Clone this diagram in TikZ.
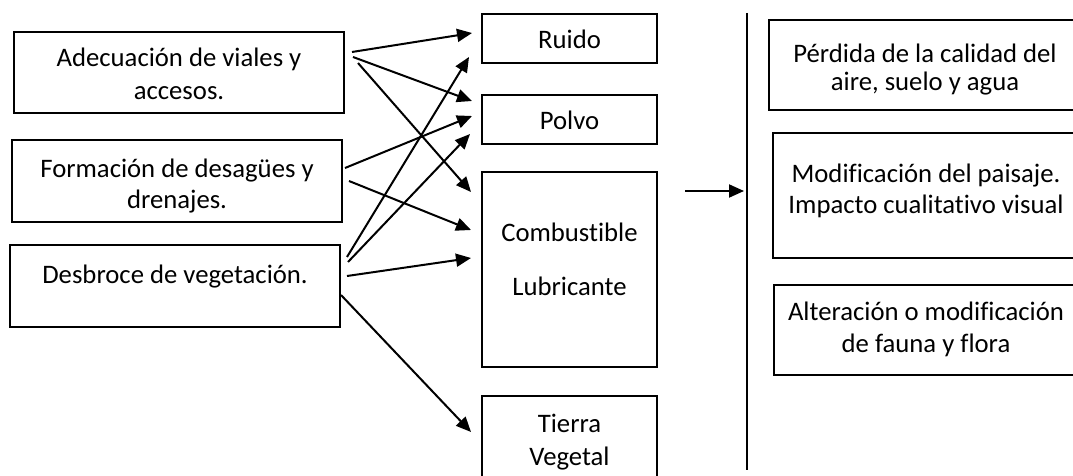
\documentclass[tikz,border=0pt]{standalone}
\usepackage{fontspec}
\setmainfont{Carlito}[Ligatures={NoCommon,NoContextual}, RawFeature={-liga;-dlig;-calt}]
\usetikzlibrary{arrows.meta}

\begin{document}
\begin{tikzpicture}[x=1pt, y=-1pt,
  box/.style={draw, line width=2pt, inner sep=0pt, outer sep=0pt},
  txt/.style={anchor=base, inner sep=0pt, font=\fontsize{26.7}{31}\selectfont},
  arr/.style={line width=2pt, -{Triangle[length=15pt, width=13pt]}},
  divider/.style={line width=1.4pt}]

\useasboundingbox (0,0) rectangle (1073,476);
\fill[white] (0,0) rectangle (1073,476);
\clip (0,0) rectangle (1073,476);

% actions (left column)
\node[box, minimum width=330pt, minimum height=81pt] (A) at (179,72.5) {};
\node[box, minimum width=330pt, minimum height=82pt] (F) at (177,181) {};
\node[box, minimum width=330pt, minimum height=82pt] (D) at (175,286) {};
\node[txt] (A1) at (179,67) {Adecuación de viales y};
\node[txt] (A2) at (179,100) {accesos.};
\node[txt] (F1) at (177,177) {Formación de desagües y};
\node[txt] (F2) at (177,208) {drenajes.};
\node[txt] (D1) at (175,283) {Desbroce de vegetación.};

% effects (middle column)
\node[box, minimum width=175pt, minimum height=49pt] (R) at (569.5,38.5) {};
\node[box, minimum width=175pt, minimum height=49pt] (P) at (569.5,119.5) {};
\node[box, minimum width=175pt, minimum height=195pt] (C) at (569.5,269.5) {};
\node[box, minimum width=175pt, minimum height=100pt] (T) at (569.5,446) {};
\node[txt] (R1) at (569.5,49) {Ruido};
\node[txt] (P1) at (569.5,130) {Polvo};
\node[txt] (C1) at (569.5,241) {Combustible};
\node[txt] (C2) at (569.5,295) {Lubricante};
\node[txt] (T1) at (569.5,432) {Tierra};
\node[txt] (T2) at (569.5,465) {Vegetal};

% impacts (right column)
\node[box, minimum width=313pt, minimum height=90pt] (I1) at (925.5,65) {};
\node[box, minimum width=309pt, minimum height=125pt] (I2) at (927.5,195.5) {};
\node[box, minimum width=308pt, minimum height=90pt] (I3) at (928,330) {};
\node[txt] (I1a) at (925,63) {Pérdida de la calidad del};
\node[txt] (I1b) at (925,91) {aire, suelo y agua};
\node[txt] (I2a) at (926,182) {Modificación del paisaje.};
\node[txt] (I2b) at (926,213) {Impacto cualitativo visual};
\node[txt] (I3a) at (926,320) {Alteración o modificación};
\node[txt] (I3b) at (926,352) {de fauna y flora};

% divider
\coordinate (vtop) at (747,13);
\coordinate (vbot) at (747,470);
\draw[divider] (vtop) -- (vbot);

% connectors
\draw[arr] ([shift={(8,20)}]A.north east) -- ([shift={(-10,19)}]R.north west);
\draw[arr] ([shift={(9,25)}]A.north east) -- ([shift={(-10,6)}]P.north west);
\draw[arr] ([shift={(14,31)}]A.north east) -- ([shift={(-11,20)}]C.north west);
\draw[arr] ([shift={(3,28)}]F.north east) -- ([shift={(-10,21)}]P.north west);
\draw[arr] ([shift={(7,41)}]F.north east) -- ([shift={(-11,58)}]C.north west);
\draw[arr] ([shift={(7,12)}]D.north east) -- ([shift={(-13,43)}]R.north west);
\draw[arr] ([shift={(8,17)}]D.north east) -- ([shift={(-12,39)}]P.north west);
\draw[arr] ([shift={(7,31)}]D.north east) -- ([shift={(-11,86)}]C.north west);
\draw[arr] ([shift={(1,50)}]D.north east) -- ([shift={(-11,36)}]T.north west);
\draw[arr] ([shift={(28,19)}]C.north east) -- ([shift={(-3,178)}]vtop);

\end{tikzpicture}
\end{document}
